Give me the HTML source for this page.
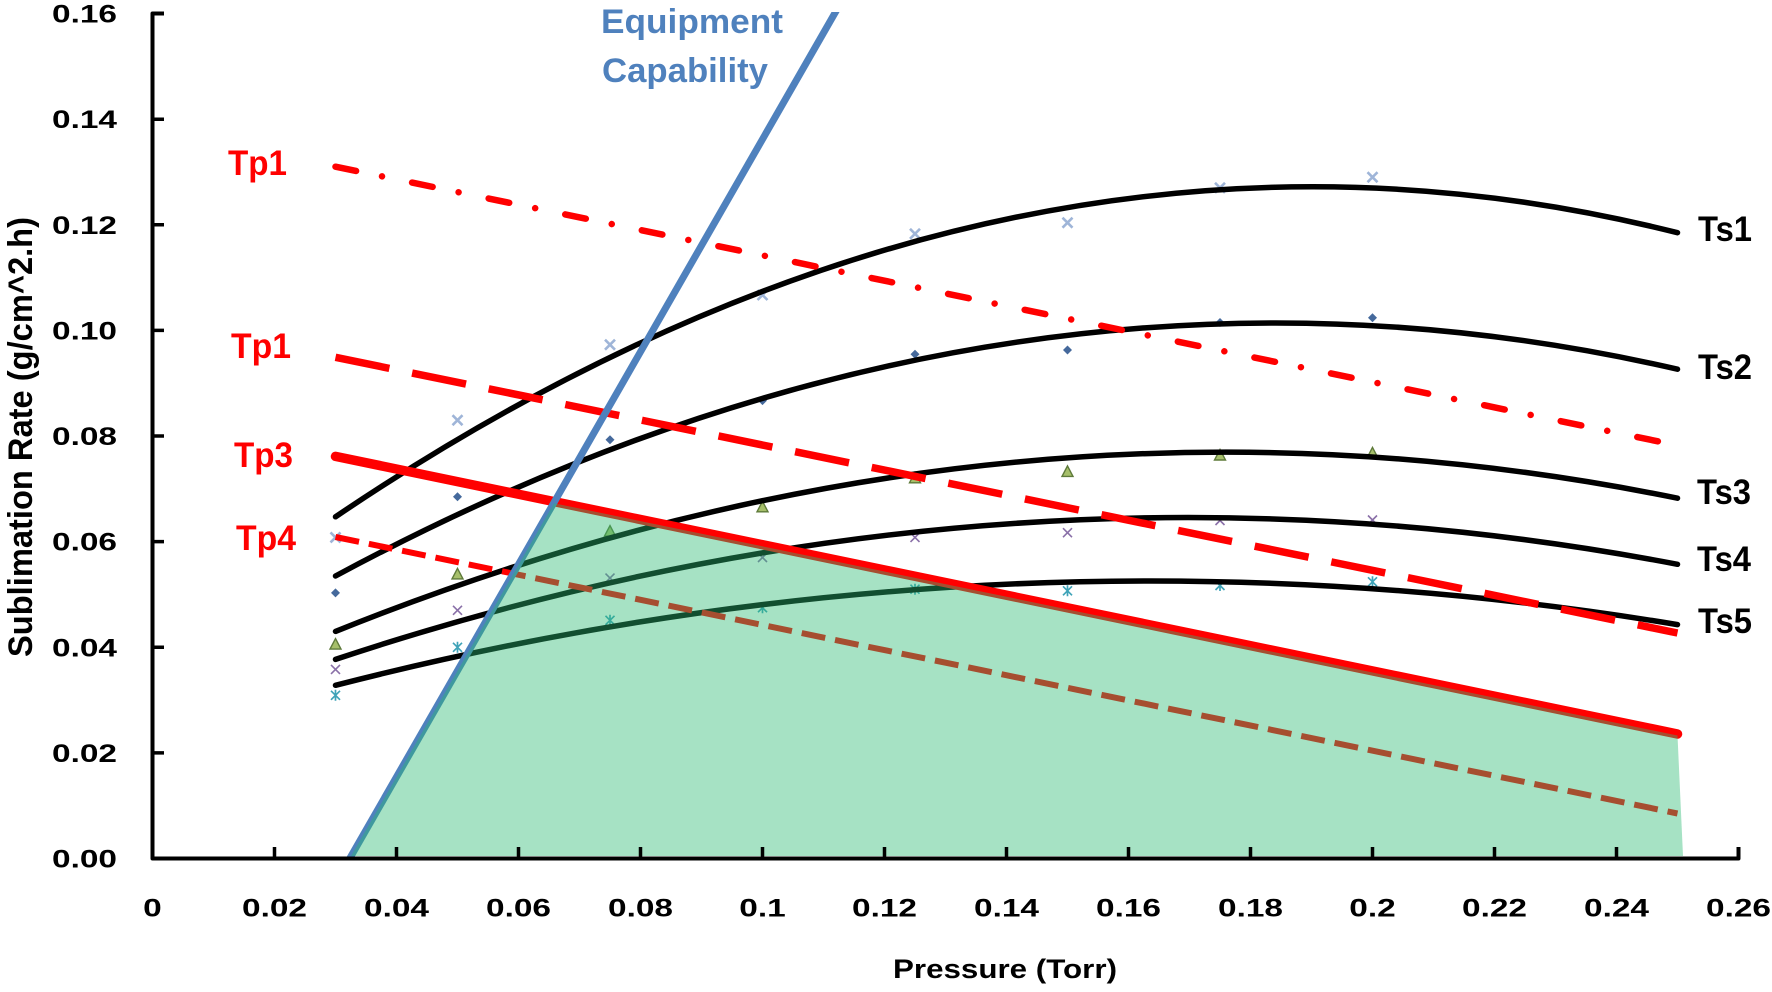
<!DOCTYPE html>
<html>
<head>
<meta charset="utf-8">
<style>
html,body{margin:0;padding:0;background:#fff;}
svg{display:block;}
text{font-family:"Liberation Sans",Arial,sans-serif;font-weight:bold;}
</style>
</head>
<body>
<svg width="1772" height="992" viewBox="0 0 1772 992" xmlns="http://www.w3.org/2000/svg">
<defs>
  <clipPath id="plotclip"><rect x="0" y="12" width="1772" height="846.5"/></clipPath>
  <g id="mx1"><path d="M-5 -5 L5 5 M-5 5 L5 -5" stroke="#9fb5d8" stroke-width="2.6" fill="none"/></g>
  <g id="md2"><path d="M0 -4.5 L4.5 0 L0 4.5 L-4.5 0 Z" fill="#45699c"/></g>
  <g id="mt3"><path d="M0 -6 L5.5 4.5 L-5.5 4.5 Z" fill="#a6bf6a" stroke="#5e7a3a" stroke-width="1.4"/></g>
  <g id="mx4"><path d="M-4.5 -4.5 L4.5 4.5 M-4.5 4.5 L4.5 -4.5" stroke="#8a70a8" stroke-width="1.6" fill="none"/></g>
  <g id="ma5"><path d="M-4.5 -4.5 L4.5 4.5 M-4.5 4.5 L4.5 -4.5 M0 -5.5 V5.5" stroke="#3fa3b8" stroke-width="1.7" fill="none"/></g>
</defs>

<rect width="1772" height="992" fill="#fff"/>

<!-- markers -->
<g>
  <use href="#mx1" x="335.5" y="537.4"/><use href="#mx1" x="457.5" y="420.2"/><use href="#mx1" x="610" y="344.7"/><use href="#mx1" x="762.5" y="295"/>
  <use href="#mx1" x="915" y="233.8"/><use href="#mx1" x="1067.5" y="222.7"/><use href="#mx1" x="1220" y="187.8"/><use href="#mx1" x="1372.5" y="177.2"/>
  <use href="#md2" x="335.5" y="592.9"/><use href="#md2" x="457.5" y="496.8"/><use href="#md2" x="610" y="439.7"/><use href="#md2" x="762.5" y="400.6"/>
  <use href="#md2" x="915" y="354.2"/><use href="#md2" x="1067.5" y="350"/><use href="#md2" x="1220" y="322.5"/><use href="#md2" x="1372.5" y="317.7"/>
  <use href="#mt3" x="335.5" y="644.6"/><use href="#mt3" x="457.5" y="574.4"/><use href="#mt3" x="610" y="531.6"/><use href="#mt3" x="762.5" y="507.3"/>
  <use href="#mt3" x="915" y="478.3"/><use href="#mt3" x="1067.5" y="471.9"/><use href="#mt3" x="1220" y="455.5"/><use href="#mt3" x="1372.5" y="453.4"/>
  <use href="#mx4" x="335.5" y="669.4"/><use href="#mx4" x="457.5" y="610.3"/><use href="#mx4" x="610" y="578.1"/><use href="#mx4" x="762.5" y="557.5"/>
  <use href="#mx4" x="915" y="537.4"/><use href="#mx4" x="1067.5" y="532.7"/><use href="#mx4" x="1220" y="520.5"/><use href="#mx4" x="1372.5" y="520"/>
  <use href="#ma5" x="335.5" y="695.3"/><use href="#ma5" x="457.5" y="647.3"/><use href="#ma5" x="610" y="620.3"/><use href="#ma5" x="762.5" y="607.7"/>
  <use href="#ma5" x="915" y="589.2"/><use href="#ma5" x="1067.5" y="590.8"/><use href="#ma5" x="1220" y="585.5"/><use href="#ma5" x="1372.5" y="581.8"/>
</g>

<!-- Ts curves -->
<g fill="none" stroke="#000" stroke-width="5.5" stroke-linecap="round">
  <path d="M335.5 516.8 Q1006.5 63.6 1677.5 232.7"/>
  <path d="M335.5 576 Q1006.5 214.8 1677.5 369.2"/>
  <path d="M335.5 631.4 Q1006.5 361.3 1677.5 498.2"/>
  <path d="M335.5 659.4 Q1006.5 436.1 1677.5 564.3"/>
  <path d="M335.5 685.3 Q1006.5 513.5 1677.5 624.6"/>
</g>

<!-- Tp lines -->
<path d="M335.5 166.7 L1677.5 445.4" fill="none" stroke="#ff0000" stroke-width="6.5" stroke-linecap="round" stroke-dasharray="21 26.5 0.01 30.7"/>
<path d="M335.5 357.3 L1677.5 633" fill="none" stroke="#ff0000" stroke-width="7.5" stroke-dasharray="55 23.2"/>
<path d="M335.5 456.4 L1677.5 734" fill="none" stroke="#ff0000" stroke-width="9.5" stroke-linecap="round"/>
<path d="M335.5 537 L1677.5 813.5" fill="none" stroke="#ff0000" stroke-width="6" stroke-dasharray="24 10"/>

<!-- Equipment capability line -->
<g clip-path="url(#plotclip)">
  <path d="M343.1 870 L842.4 0" fill="none" stroke="#4f81bd" stroke-width="7"/>
</g>

<!-- semi-transparent green feasible region -->
<polygon points="351,856 554,503.2 1677.5,735.5 1683,856" fill="rgb(43,186,115)" fill-opacity="0.42"/>

<!-- axes -->
<path d="M164 13.5 H152.5 V858.5 H1738.5 V847" fill="none" stroke="#000" stroke-width="4" stroke-linejoin="round"/>
<g stroke="#000" stroke-width="3.5" fill="none">
  <path d="M152.5 752.9 H164 M152.5 647.3 H164 M152.5 541.6 H164 M152.5 436 H164 M152.5 330.4 H164 M152.5 224.8 H164 M152.5 119.2 H164"/>
  <path d="M274.5 858.5 V847 M396.5 858.5 V847 M518.5 858.5 V847 M640.5 858.5 V847 M762.5 858.5 V847 M884.5 858.5 V847 M1006.5 858.5 V847 M1128.5 858.5 V847 M1250.5 858.5 V847 M1372.5 858.5 V847 M1494.5 858.5 V847 M1616.5 858.5 V847"/>
</g>

<!-- y tick labels -->
<g font-size="25" fill="#000" text-anchor="end">
  <text x="117" y="867.5" textLength="65" lengthAdjust="spacingAndGlyphs">0.00</text>
  <text x="117" y="761.9" textLength="65" lengthAdjust="spacingAndGlyphs">0.02</text>
  <text x="117" y="656.3" textLength="65" lengthAdjust="spacingAndGlyphs">0.04</text>
  <text x="117" y="550.6" textLength="65" lengthAdjust="spacingAndGlyphs">0.06</text>
  <text x="117" y="445" textLength="65" lengthAdjust="spacingAndGlyphs">0.08</text>
  <text x="117" y="339.4" textLength="65" lengthAdjust="spacingAndGlyphs">0.10</text>
  <text x="117" y="233.8" textLength="65" lengthAdjust="spacingAndGlyphs">0.12</text>
  <text x="117" y="128.2" textLength="65" lengthAdjust="spacingAndGlyphs">0.14</text>
  <text x="117" y="22.5" textLength="65" lengthAdjust="spacingAndGlyphs">0.16</text>
</g>

<!-- x tick labels -->
<g font-size="25" fill="#000" text-anchor="middle">
  <text x="152.5" y="916.5" textLength="18.6" lengthAdjust="spacingAndGlyphs">0</text>
  <text x="274.5" y="916.5" textLength="65" lengthAdjust="spacingAndGlyphs">0.02</text>
  <text x="396.5" y="916.5" textLength="65" lengthAdjust="spacingAndGlyphs">0.04</text>
  <text x="518.5" y="916.5" textLength="65" lengthAdjust="spacingAndGlyphs">0.06</text>
  <text x="640.5" y="916.5" textLength="65" lengthAdjust="spacingAndGlyphs">0.08</text>
  <text x="762.5" y="916.5" textLength="46.5" lengthAdjust="spacingAndGlyphs">0.1</text>
  <text x="884.5" y="916.5" textLength="65" lengthAdjust="spacingAndGlyphs">0.12</text>
  <text x="1006.5" y="916.5" textLength="65" lengthAdjust="spacingAndGlyphs">0.14</text>
  <text x="1128.5" y="916.5" textLength="65" lengthAdjust="spacingAndGlyphs">0.16</text>
  <text x="1250.5" y="916.5" textLength="65" lengthAdjust="spacingAndGlyphs">0.18</text>
  <text x="1372.5" y="916.5" textLength="46.5" lengthAdjust="spacingAndGlyphs">0.2</text>
  <text x="1494.5" y="916.5" textLength="65" lengthAdjust="spacingAndGlyphs">0.22</text>
  <text x="1616.5" y="916.5" textLength="65" lengthAdjust="spacingAndGlyphs">0.24</text>
  <text x="1738.5" y="916.5" textLength="65" lengthAdjust="spacingAndGlyphs">0.26</text>
</g>

<!-- axis titles -->
<text x="1005" y="978" font-size="27" fill="#000" text-anchor="middle" textLength="224" lengthAdjust="spacingAndGlyphs">Pressure (Torr)</text>
<text transform="translate(32,437) rotate(-90)" x="0" y="0" font-size="34" fill="#000" text-anchor="middle" textLength="440" lengthAdjust="spacingAndGlyphs">Sublimation Rate (g/cm^2.h)</text>

<!-- Equipment Capability label -->
<g font-size="34" fill="#4f81bd">
  <text x="601" y="33" textLength="182" lengthAdjust="spacingAndGlyphs">Equipment</text>
  <text x="602" y="82" textLength="166" lengthAdjust="spacingAndGlyphs">Capability</text>
</g>

<!-- Tp labels -->
<g font-size="35" fill="#ff0000">
  <text x="228" y="175" textLength="59" lengthAdjust="spacingAndGlyphs">Tp1</text>
  <text x="231" y="358" textLength="60" lengthAdjust="spacingAndGlyphs">Tp1</text>
  <text x="234" y="467" textLength="59" lengthAdjust="spacingAndGlyphs">Tp3</text>
  <text x="236" y="550" textLength="60" lengthAdjust="spacingAndGlyphs">Tp4</text>
</g>

<!-- Ts labels -->
<g font-size="35" fill="#000">
  <text x="1698" y="241" textLength="54" lengthAdjust="spacingAndGlyphs">Ts1</text>
  <text x="1698" y="379" textLength="54" lengthAdjust="spacingAndGlyphs">Ts2</text>
  <text x="1697" y="504" textLength="54" lengthAdjust="spacingAndGlyphs">Ts3</text>
  <text x="1697" y="571" textLength="54" lengthAdjust="spacingAndGlyphs">Ts4</text>
  <text x="1698" y="633" textLength="54" lengthAdjust="spacingAndGlyphs">Ts5</text>
</g>
</svg>
</body>
</html>
